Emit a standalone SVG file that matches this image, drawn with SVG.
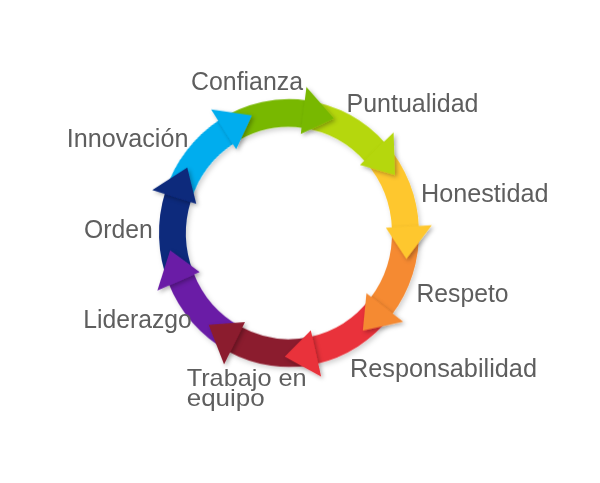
<svg xmlns="http://www.w3.org/2000/svg" xmlns:xlink="http://www.w3.org/1999/xlink" width="600" height="483" viewBox="0 0 600 483">
  <defs>
    <style>
      .lbl { font-family: "Liberation Sans", Arial, sans-serif; font-size: 25.5px; fill: #5e5e5e; }
      .sm { font-size: 24px; }
    </style>
    <filter id="sh" x="-50%" y="-50%" width="200%" height="200%">
      <feDropShadow dx="2" dy="2" stdDeviation="2.2" flood-color="#000" flood-opacity="0.3"/>
    </filter>
    <filter id="sh2" x="-20%" y="-20%" width="140%" height="140%">
      <feDropShadow dx="2" dy="2.5" stdDeviation="2.5" flood-color="#000" flood-opacity="0.18"/>
    </filter>
    <!-- band: annular sector from -54deg to -14deg, radii 103..130 -->
    <path id="band" d="M 76.41 -105.17 A 130 130 0 0 1 126.14 -31.45 L 99.94 -24.92 A 103 103 0 0 0 60.54 -83.33 Z"/>
    <!-- head: base at -15deg, radii 97..143, tip at 0deg r=120 -->
    <path id="head" d="M 93.69 -25.11 L 138.13 -37.01 L 120 0 Z"/>
  </defs>
  <rect width="600" height="483" fill="#ffffff"/>

  <g id="connectors" transform="translate(289,233) scale(1,1.03)">
    <g id="bands" filter="url(#sh2)">
      <use xlink:href="#band" href="#band" transform="rotate(-68)" fill="#78b800"/>
      <use xlink:href="#band" href="#band" transform="rotate(-28)" fill="#b5d70f"/>
      <use xlink:href="#band" href="#band" transform="rotate(12)" fill="#fec72e"/>
      <use xlink:href="#band" href="#band" transform="rotate(52)" fill="#f58a33"/>
      <use xlink:href="#band" href="#band" transform="rotate(92)" fill="#e9323a"/>
      <use xlink:href="#band" href="#band" transform="rotate(132)" fill="#8b1d2f"/>
      <use xlink:href="#band" href="#band" transform="rotate(172)" fill="#6b1fa6"/>
      <use xlink:href="#band" href="#band" transform="rotate(212)" fill="#0d2a7c"/>
      <use xlink:href="#band" href="#band" transform="rotate(252)" fill="#00adee"/>
    </g>
    <g id="heads" filter="url(#sh)">
      <use xlink:href="#head" href="#head" transform="rotate(-68)" fill="#78b800"/>
      <use xlink:href="#head" href="#head" transform="rotate(-28)" fill="#b5d70f"/>
      <use xlink:href="#head" href="#head" transform="rotate(12)" fill="#fec72e"/>
      <use xlink:href="#head" href="#head" transform="rotate(52)" fill="#f58a33"/>
      <use xlink:href="#head" href="#head" transform="rotate(92)" fill="#e9323a"/>
      <use xlink:href="#head" href="#head" transform="rotate(132)" fill="#8b1d2f"/>
      <use xlink:href="#head" href="#head" transform="rotate(172)" fill="#6b1fa6"/>
      <use xlink:href="#head" href="#head" transform="rotate(212)" fill="#0d2a7c"/>
      <use xlink:href="#head" href="#head" transform="rotate(252)" fill="#00adee"/>
    </g>
  </g>

  <g id="confianza"><text class="lbl" x="191" y="90" textLength="112" lengthAdjust="spacingAndGlyphs">Confianza</text></g>
  <g id="puntualidad"><text class="lbl" x="346.5" y="111.7" textLength="132" lengthAdjust="spacingAndGlyphs">Puntualidad</text></g>
  <g id="honestidad"><text class="lbl" x="421" y="201.7" textLength="127.5" lengthAdjust="spacingAndGlyphs">Honestidad</text></g>
  <g id="respeto"><text class="lbl" x="416.5" y="301.7" textLength="92" lengthAdjust="spacingAndGlyphs">Respeto</text></g>
  <g id="responsabilidad"><text class="lbl" x="350" y="377.3" textLength="187" lengthAdjust="spacingAndGlyphs">Responsabilidad</text></g>
  <g id="trabajo-en-equipo">
    <text class="lbl sm" x="186.7" y="386.3" textLength="120" lengthAdjust="spacingAndGlyphs">Trabajo en</text>
    <text class="lbl sm" x="186.7" y="405.5" textLength="78" lengthAdjust="spacingAndGlyphs">equipo</text>
  </g>
  <g id="liderazgo"><text class="lbl" x="83.3" y="328.3" textLength="108.5" lengthAdjust="spacingAndGlyphs">Liderazgo</text></g>
  <g id="orden"><text class="lbl" x="84" y="238.3" textLength="68.7" lengthAdjust="spacingAndGlyphs">Orden</text></g>
  <g id="innovacion"><text class="lbl" x="66.7" y="147.3" textLength="121.7" lengthAdjust="spacingAndGlyphs">Innovación</text></g>
</svg>
